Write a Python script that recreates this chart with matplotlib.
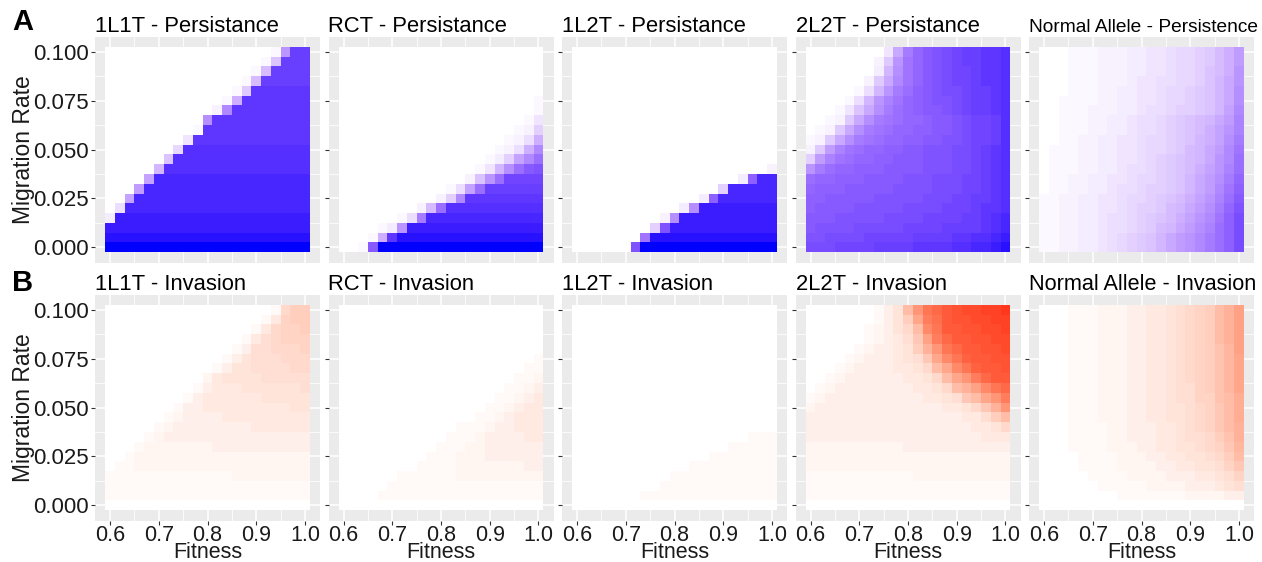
import numpy as np
import matplotlib
matplotlib.use("Agg")
import matplotlib.pyplot as plt
from matplotlib.colors import ListedColormap

plt.rcParams['font.family'] = ['Liberation Sans', 'DejaVu Sans']

# ---------------- data ----------------
fitness = [0.60, 0.62, 0.64, 0.66, 0.68, 0.70, 0.72, 0.74, 0.76, 0.78, 0.80,
           0.82, 0.84, 0.86, 0.88, 0.90, 0.92, 0.94, 0.96, 0.98, 1.00]
migration = [0.000, 0.005, 0.010, 0.015, 0.020, 0.025, 0.030, 0.035, 0.040,
             0.045, 0.050, 0.055, 0.060, 0.065, 0.070, 0.075, 0.080, 0.085,
             0.090, 0.095, 0.100]

x_ticks = [0.6, 0.7, 0.8, 0.9, 1.0]
y_ticks = [0.000, 0.025, 0.050, 0.075, 0.100]

titles_persist = ["1L1T - Persistance", "RCT - Persistance", "1L2T - Persistance",
                  "2L2T - Persistance", "Normal Allele - Persistence"]
titles_invade = ["1L1T - Invasion", "RCT - Invasion", "1L2T - Invasion",
                 "2L2T - Invasion", "Normal Allele - Invasion"]

# Cell values: one string per migration row, listed from 0.100 (top) down to 0.000.
# Each character is one fitness column (0.60 -> 1.00); value = base-36 digit / 35.
p_1L1T = [
    "0"*17 + "1gtt",
    "0"*16 + "19ttt",
    "0"*15 + "1a" + "tttt",
    "0"*14 + "1a" + "ttttt",
    "0"*13 + "18" + "uuuuuu",
    "0"*12 + "1c" + "uuuuuuu",
    "0"*11 + "2i" + "uuuuuuuu",
    "0"*10 + "h" + "uuuuuuuuuu",
    "0"*9 + "1" + "uuuuuuuuuuu",
    "0"*8 + "4" + "uuuuuuuuuuuu",
    "0"*7 + "6" + "vvvvvvvvvvvvv",
    "0"*6 + "9" + "vvvvvvvvvvvvvv",
    "0"*5 + "b" + "vvvvvvvvvvvvvvv",
    "0"*4 + "e" + "wwwwwwwwwwwwwwww",
    "0"*3 + "f" + "wwwwwwwwwwwwwwwww",
    "0"*2 + "e" + "wwwwwwwwwwwwwwwwww",
    "0" + "5" + "wwwwwwwwwwwwwwwwwww",
    "3" + "xxxxxxxxxxxxxxxxxxxx",
    "xxxxxxxxxxxxxxxxxxxxx",
    "yyyyyyyyyyyyyyyyyyyyy",
    "zzzzzzzzzzzzzzzzzzzzz",
]
p_RCT = [
    "0"*21, "0"*21, "0"*21, "0"*21, "0"*21,
    "0"*20 + "1",
    "0"*20 + "1",
    "0"*19 + "14",
    "0"*18 + "127",
    "0"*17 + "125c",
    "0"*16 + "125ci",
    "0"*15 + "137eim",
    "0"*14 + "14bhmpq",
    "0"*13 + "29gmssss",
    "0"*11 + "15em" + "tttttt",
    "0"*10 + "27i" + "uuuuuuuu",
    "0"*8 + "2am" + "vvvvvvvvvv",
    "0"*6 + "15k" + "wwwwwwwwwwww",
    "0"*4 + "13g" + "xxxxxxxxxxxxxx",
    "0"*3 + "1cu" + "yyyyyyyyyyyyyyy",
    "001p" + "zzzzzzzzzzzzzzzzz",
]
p_1L2T = [
    "0"*21, "0"*21, "0"*21, "0"*21, "0"*21, "0"*21,
    "0"*21, "0"*21, "0"*21, "0"*21, "0"*21, "0"*21,
    "0"*20 + "2",
    "0"*17 + "3oww",
    "0"*15 + "7wwwww",
    "0"*13 + "3owwwwww",
    "0"*11 + "3hxxxxxxxx",
    "0"*9 + "2hxxxxxxxxxx",
    "0"*8 + "7qxxxxxxxxxxx",
    "0"*7 + "lyyyyyyyyyyyyy",
    "0"*6 + "qzzzzzzzzzzzzzz",
]
p_2L2T = [
    "0"*8 + "4dknpqrsttuuv",
    "0"*7 + "28glnpqrsttuuv",
    "0"*7 + "3bhlnpqrsstuuv",
    "0"*6 + "28dilnpqrsstuuv",
    "0"*5 + "15bgkmopqrrsttuv",
    "0"*4 + "15bgjlnopqqrsttuv",
    "0"*3 + "149dhkmnoppqrsttuv",
    "0"*2 + "128dhklmnnoppqrsstv",
    "0" + "128dhklmnnooppqrsstv",
    "128dhklmnnooppqqrsstv",
    "28fjlmnnooppqqqrrstuv",
    "7fjlmnnoopppqqqrrstuv",
    "gkmnnoooppppqqqrrstuv",
    "mnnoooppppqqqrrrsstuv",
    "nooopppppqqqqrrrsstuv",
    "oopppppqqqqqrrrssttuv",
    "oppppqqqqqrrrrssstuuv",
    "pppqqqqqrrrrssssttuvw",
    "pqqqqrrrrrssssttttuvw",
    "qqrrrrsssssttttuuvvwx",
    "rrrssssttttuuuuvvwwxy",
]
p_normal = [
    "000111222334456678acf",
    "000111222334456678acf",
    "000111222334456679acg",
    "000111222344556679bdg",
    "000111223344566789bdh",
    "001111223344566789bdh",
    "001112223345567789bei",
    "0011122334556789abdfj",
    "0011122334556789acegj",
    "0011223344566789bcehk",
    "011122334456678abdfil",
    "011122334456789abdgim",
    "011122334556789acegjm",
    "011223344566789bdfhkn",
    "011223345567789bdfilo",
    "11223344566789acegjmp",
    "1122334456778abdfhknq",
    "1122334556789acegilor",
    "112233455678abdfhjmor",
    "112233456789bdfgikmor",
    "112233456789bdfgikmor",
]
i_1L1T = [
    "0"*17 + "1799",
    "0"*16 + "14899",
    "0"*15 + "147889",
    "0"*14 + "1467888",
    "0"*13 + "13667778",
    "0"*12 + "135666777",
    "0"*11 + "1355666677",
    "0"*10 + "24555566666",
    "0"*9 + "134445555556",
    "0"*8 + "1344444455555",
    "0"*7 + "13344444444455",
    "0"*6 + "123333444444444",
    "0"*5 + "1233333333444444",
    "0"*4 + "12333333333333333",
    "0"*3 + "122222223333333333",
    "0"*2 + "1222222222222222222",
    "0" + "11222222222222222222",
    "1111111111111" + "22222222",
    "1"*21,
    "1"*21,
    "0"*21,
]
i_RCT = [
    "0"*21, "0"*21, "0"*21, "0"*21, "0"*21,
    "0"*20 + "1",
    "0"*19 + "11",
    "0"*18 + "112",
    "0"*17 + "1123",
    "0"*16 + "11234",
    "0"*15 + "112344",
    "0"*14 + "1123444",
    "0"*12 + "111233444",
    "0"*11 + "1112333344",
    "0"*10 + "11122333333",
    "0"*9 + "111222333333",
    "0"*8 + "1111222222233",
    "0"*6 + "111111222222222",
    "0"*5 + "1"*16,
    "0"*4 + "1"*17,
    "0"*21,
]
i_1L2T = [
    "0"*21, "0"*21, "0"*21, "0"*21, "0"*21, "0"*21, "0"*21,
    "0"*21, "0"*21, "0"*21, "0"*21, "0"*21, "0"*21,
    "0"*18 + "111",
    "0"*16 + "11111",
    "0"*14 + "1111111",
    "0"*12 + "111111111",
    "0"*10 + "11111111111",
    "0"*9 + "111111111111",
    "0"*7 + "11111111111111",
    "0"*21,
]
i_2L2T = [
    "0"*7 + "135cjoqstuuvvw",
    "0"*7 + "1359gnpsttuuvv",
    "0"*6 + "12357clossttuuv",
    "0"*6 + "12346ahnqssttuu",
    "0"*5 + "1233459ejoqssttu",
    "0"*4 + "12333456aglorsstt",
    "0"*3 + "1233334457cglorsst",
    "0"*2 + "123333334457cgjnqss",
    "0" + "12" + "33333333" + "4457cehloq",
    "12" + "3333333333" + "4456acgjn",
    "2" + "3333333333333" + "4457aej",
    "3333333333333333" + "4469c",
    "33333333333333333" + "4457",
    "333333333333333333" + "444",
    "2222222222" + "33333333333",
    "2"*21,
    "2"*21,
    "1"*11 + "2"*10,
    "1"*21,
    "1"*21,
    "0"*21,
]
i_normal = [
    "000111222334456789ceh",
    "000111222334456789ceh",
    "000111222334456789ceh",
    "000111222334456789ceh",
    "000111222334456789bdh",
    "000111222334456789bdg",
    "000111222334456789bdg",
    "000111222334456789bdg",
    "000111222334456689bdg",
    "000111222334456688bcf",
    "000111222334455678acf",
    "000111222334455678acf",
    "000111122333445678ace",
    "0001111223334456679be",
    "0001111222334455678ad",
    "00001111222334455679c",
    "00001111222233445568a",
    "000001111222233344568",
    "000000111112222333456",
    "000000001111111222233",
    "0"*21,
]

persist_panels = [p_1L1T, p_RCT, p_1L2T, p_2L2T, p_normal]
invade_panels = [i_1L1T, i_RCT, i_1L2T, i_2L2T, i_normal]


def decode(rows):
    for r in rows:
        assert len(r) == 21, (r, len(r))
    return np.array([[int(ch, 36) / 35.0 for ch in r] for r in rows[::-1]])


# ---------------- colour scales (white -> colour, interpolated in CIELAB) ----------------
def srgb_to_lab(rgb):
    c = np.asarray(rgb, float)
    lin = np.where(c <= 0.04045, c / 12.92, ((c + 0.055) / 1.055) ** 2.4)
    M = np.array([[0.4124, 0.3576, 0.1805], [0.2126, 0.7152, 0.0722], [0.0193, 0.1192, 0.9505]])
    X, Y, Z = M @ lin
    X /= 0.95047; Z /= 1.08883
    f = lambda t: np.where(t > (6/29)**3, np.cbrt(t), t / (3*(6/29)**2) + 4/29)
    fx, fy, fz = f(X), f(Y), f(Z)
    return np.array([116*fy - 16, 500*(fx - fy), 200*(fy - fz)])


def lab_to_srgb(lab):
    L, a, b = lab
    fy = (L + 16) / 116; fx = fy + a / 500; fz = fy - b / 200
    finv = lambda t: np.where(t > 6/29, t**3, 3*(6/29)**2*(t - 4/29))
    X = 0.95047*finv(fx); Y = finv(fy); Z = 1.08883*finv(fz)
    Minv = np.array([[3.2406, -1.5372, -0.4986], [-0.9689, 1.8758, 0.0415], [0.0557, -0.2040, 1.0570]])
    lin = Minv @ np.array([X, Y, Z])
    lin = np.clip(lin, 0, 1)
    c = np.where(lin <= 0.0031308, 12.92*lin, 1.055*lin**(1/2.4) - 0.055)
    return np.clip(c, 0, 1)


def lab_cmap(high):
    lo = srgb_to_lab([1, 1, 1]); hi = srgb_to_lab(high)
    cols = [lab_to_srgb(lo + (hi - lo)*t) for t in np.linspace(0, 1, 256)]
    return ListedColormap(cols)


cmap_blue = lab_cmap([0, 0, 1])
cmap_red = lab_cmap([1, 0, 0])

# ---------------- figure ----------------
W, H = 1262, 562
fig = plt.figure(figsize=(W/100, H/100), dpi=100)

lefts = [95, 328.5, 562, 795.5, 1029]
pw = 225
rows_top = [36.5, 294.5]
ph = 226

x_step = fitness[1] - fitness[0]
y_step = migration[1] - migration[0]
x_edges = np.append(np.array(fitness) - x_step/2, fitness[-1] + x_step/2)
y_edges = np.append(np.array(migration) - y_step/2, migration[-1] + y_step/2)
xr = (x_edges[-1] - x_edges[0]) * 0.05
yr = (y_edges[-1] - y_edges[0]) * 0.05

txt_col = '#1a1a1a'
title_sizes = [[15.8, 15.8, 15.8, 15.8, 13.8],
               [15.8, 15.8, 15.8, 15.8, 15.6]]

for ri, (panels, titles, cmap) in enumerate([(persist_panels, titles_persist, cmap_blue),
                                             (invade_panels, titles_invade, cmap_red)]):
    for ci in range(5):
        ax = fig.add_axes([lefts[ci]/W, 1 - (rows_top[ri] + ph)/H, pw/W, ph/H])
        ax.set_facecolor('#EBEBEB')
        vals = decode(panels[ci])
        ax.pcolormesh(x_edges, y_edges, vals, cmap=cmap, vmin=0, vmax=1,
                      shading='flat', zorder=2, edgecolors='none', antialiased=False)
        ax.set_xlim(x_edges[0] - xr, x_edges[-1] + xr)
        ax.set_ylim(y_edges[0] - yr, y_edges[-1] + yr)
        ax.set_xticks(x_ticks)
        ax.set_yticks(y_ticks)
        ax.set_xticks([0.65, 0.75, 0.85, 0.95], minor=True)
        ax.set_yticks([0.0125, 0.0375, 0.0625, 0.0875], minor=True)
        ax.grid(True, which='major', color='white', linewidth=1.1, zorder=1)
        ax.grid(True, which='minor', color='white', linewidth=0.55, zorder=1)
        ax.set_axisbelow(True)
        for s in ax.spines.values():
            s.set_visible(False)
        ax.tick_params(which='minor', length=0)
        ax.tick_params(axis='y', which='major', length=3.2, width=0.8, color='#333333',
                       labelsize=16, labelcolor=txt_col, pad=1.5)
        if ri == 1:
            ax.tick_params(axis='x', which='major', length=3.2, width=0.8, color='#333333',
                           labelsize=15.5, labelcolor=txt_col, pad=0)
            ax.set_xticklabels([f"{v:.1f}" for v in x_ticks])
            ax.set_xlabel("Fitness", fontsize=15.5, color=txt_col, labelpad=-2.5)
        else:
            ax.tick_params(axis='x', which='major', length=0, labelbottom=False)
        if ci == 0:
            ax.set_yticklabels([f"{v:.3f}" for v in y_ticks])
            ax.set_ylabel("Migration Rate", fontsize=16.5, color=txt_col, labelpad=-1.5)
        else:
            ax.tick_params(axis='y', labelleft=False)
        ax.set_title(titles[ci], loc='left', fontsize=title_sizes[ri][ci], color='black', pad=3)

fig.text(23/W, 1 - 22/H, "A", fontsize=21, fontweight='bold', ha='center', va='center')
fig.text(23/W, 1 - 283/H, "B", fontsize=21, fontweight='bold', ha='center', va='center')

fig.savefig("out.png", dpi=100)
